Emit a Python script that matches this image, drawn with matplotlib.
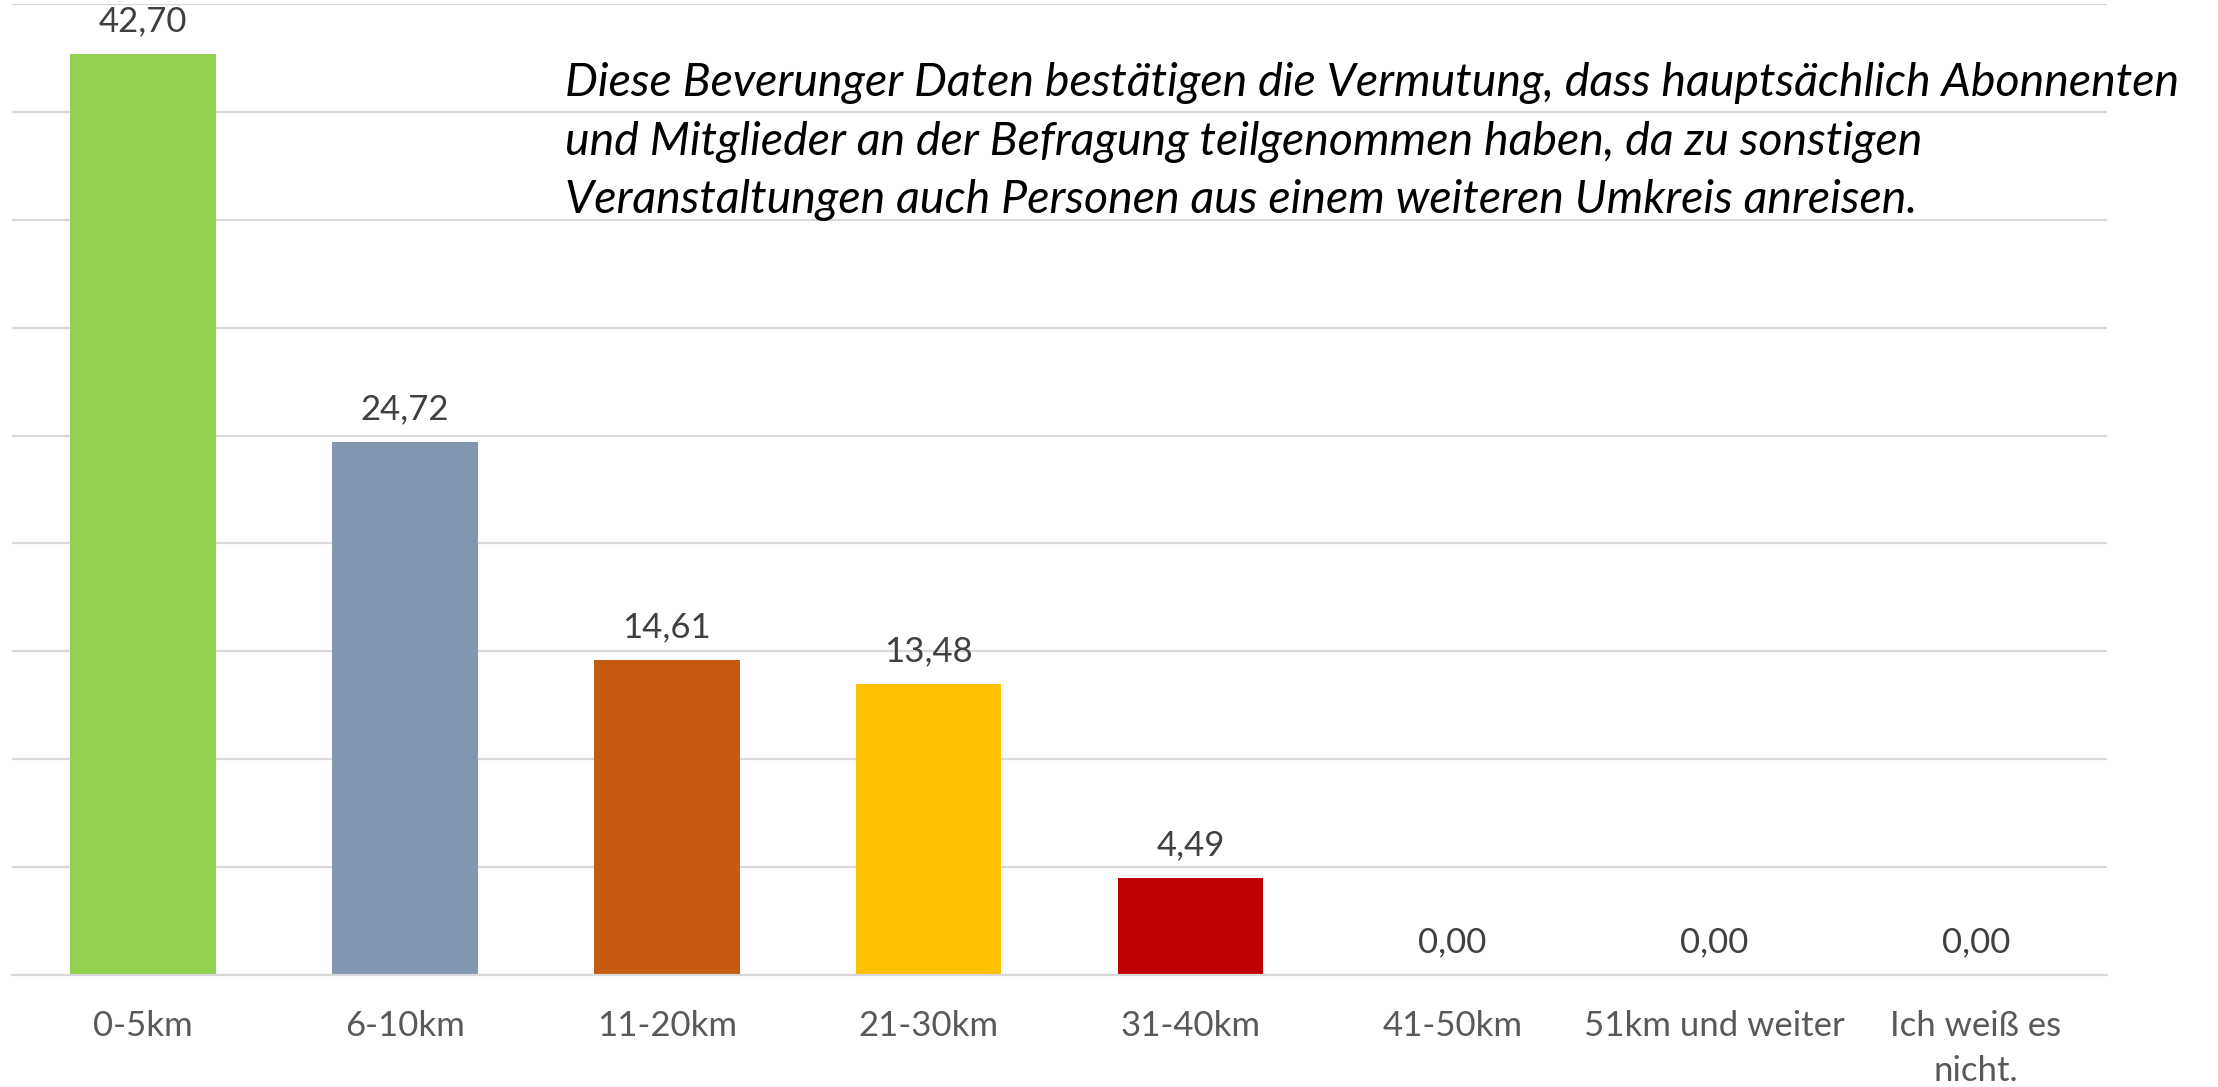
import matplotlib.pyplot as plt

# Data
categories = ['0-5km', '6-10km', '11-20km', '21-30km', '31-40km',
              '41-50km', '51km und weiter', 'Ich weiß es\nnicht.']
values = [42.70, 24.72, 14.61, 13.48, 4.49, 0.00, 0.00, 0.00]
colors = ['#92D050', '#8497B0', '#C55A11', '#FFC000', '#C00000',
          '#FFFFFF', '#FFFFFF', '#FFFFFF']
note_lines = ["Diese Beverunger Daten bestätigen die Vermutung, dass hauptsächlich Abonnenten",
              "und Mitglieder an der Befragung teilgenommen haben, da zu sonstigen",
              "Veranstaltungen auch Personen aus einem weiteren Umkreis anreisen."]

plt.rcParams['font.family'] = ['Lato', 'DejaVu Sans']

fig = plt.figure(figsize=(22.18, 10.87), dpi=100)
ax = fig.add_axes([12 / 2218, 1 - 975 / 1087, (2107 - 12) / 2218, (975 - 4) / 1087])

x = range(len(categories))
bars = ax.bar(x, values, width=0.557, color=colors, zorder=2)

for xi, v in zip(x, values):
    ax.annotate(f'{v:.2f}'.replace('.', ','), (xi, v), xytext=(0, 12),
                textcoords='offset points', ha='center', va='bottom',
                fontsize=25, color='#404040')

ax.set_xlim(-0.5, len(categories) - 0.5)
ax.set_ylim(0, 45)
ax.set_yticks(range(0, 46, 5))
ax.yaxis.grid(True, color='#D9D9D9', linewidth=1.6, zorder=0)
ax.set_yticklabels([])
ax.tick_params(axis='y', length=0)
ax.set_xticks(list(x))
ax.set_xticklabels(categories, fontsize=25, color='#595959', linespacing=1.5)
ax.tick_params(axis='x', length=0, pad=25)
for s in ['top', 'right', 'left']:
    ax.spines[s].set_visible(False)
ax.spines['bottom'].set_color('#D9D9D9')
ax.spines['bottom'].set_linewidth(1.6)

# annotation, one line at a time (baselines in pixels from the top)
for line, yb in zip(note_lines, [96, 155, 213]):
    fig.text(565 / 2218, 1 - yb / 1087, line, ha='left', va='baseline',
             fontsize=33.5, style='italic', color='black')

fig.savefig('out.png', dpi=100)
